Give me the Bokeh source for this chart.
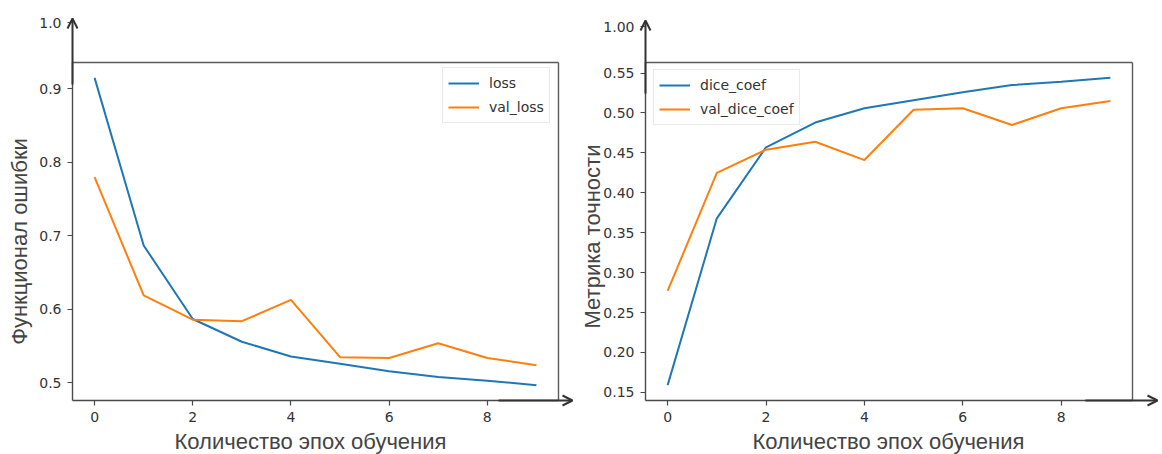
from bokeh.plotting import figure
from bokeh.layouts import row
from bokeh.models import (Range1d, FixedTicker, CustomJSTickFormatter, Label,
                          Arrow, OpenHead)
from bokeh.embed import file_html
from bokeh.resources import INLINE

# ---------------- data ----------------
epochs = [0, 1, 2, 3, 4, 5, 6, 7, 8, 9]
loss = [0.915, 0.687, 0.587, 0.556, 0.536, 0.526, 0.516, 0.508, 0.503, 0.497]
val_loss = [0.780, 0.619, 0.586, 0.584, 0.613, 0.535, 0.534, 0.554, 0.534, 0.524]
dice_coef = [0.159, 0.368, 0.457, 0.488, 0.506, 0.516, 0.526, 0.535, 0.539, 0.544]
val_dice_coef = [0.277, 0.425, 0.454, 0.464, 0.441, 0.504, 0.506, 0.485, 0.506, 0.515]

x_ticks = [0, 2, 4, 6, 8]
left_y_ticks = [0.5, 0.6, 0.7, 0.8, 0.9]
right_y_ticks = [0.15, 0.20, 0.25, 0.30, 0.35, 0.40, 0.45, 0.50, 0.55]

x_label = "Количество эпох обучения"
left_y_label = "Функционал ошибки"
right_y_label = "Метрика точности"
left_top_text = "1.0"
right_top_text = "1.00"

BLUE = "#1f77b4"
ORANGE = "#ff7f0e"
DARK = "#333333"
SPINE = "#4a4a4a"
TICK_FONT = "DejaVu Sans"
LABEL_FONT = "Liberation Sans"
H = 454


def margins(vals_list, frac=0.05):
    lo = min(min(v) for v in vals_list)
    hi = max(max(v) for v in vals_list)
    d = (hi - lo) * frac
    return lo - d, hi + d


def make_panel(page_left, width, FL, FR, FT, FB, series, names, yticks, ndec,
               ylabel, top_text, top_text_py, legend_box, ylabel_c, xlabel_c,
               yarrow, xarrow):
    # data limits of the axes box (matplotlib-like 5% margins)
    x0, x1 = margins([epochs])
    y0, y1 = margins([s for s in series])
    xs = (x1 - x0) / (FR - FL)     # data units per pixel
    ys = (y1 - y0) / (FB - FT)

    def X(px):
        return x0 + (px - FL) * xs

    def Y(py):
        return y1 - (py - FT) * ys

    # the frame covers the whole canvas; axes are pinned to the box edges
    p = figure(width=width, height=H, output_backend="svg",
               toolbar_location=None,
               x_range=Range1d(X(page_left), X(page_left + width)),
               y_range=Range1d(Y(H), Y(0)),
               min_border_left=0, min_border_right=0,
               min_border_top=0, min_border_bottom=0)
    p.title.visible = False
    p.xgrid.visible = False
    p.ygrid.visible = False
    p.outline_line_color = None
    p.background_fill_color = "white"
    p.border_fill_color = "white"

    for ax in (p.xaxis[0], p.yaxis[0]):
        ax.axis_line_color = SPINE
        ax.axis_line_width = 1.4
        ax.major_tick_line_color = SPINE
        ax.major_tick_line_width = 1.2
        ax.major_tick_out = 5
        ax.major_tick_in = 0
        ax.minor_tick_line_color = None
        ax.major_label_text_font = TICK_FONT
        ax.major_label_text_font_size = "14px"
        ax.major_label_text_color = DARK
        ax.major_label_standoff = 6
    xa, ya = p.xaxis[0], p.yaxis[0]
    xa.fixed_location = y0
    xa.bounds = (x0, x1)
    xa.ticker = FixedTicker(ticks=x_ticks)
    ya.fixed_location = x0
    ya.bounds = (y0, y1)
    top_val = Y(top_text_py)
    ya.ticker = FixedTicker(ticks=yticks + [top_val])
    ya.formatter = CustomJSTickFormatter(
        args=dict(top=top_val, lab=top_text, nd=ndec),
        code="return Math.abs(tick - top) < 1e-9 ? lab : tick.toFixed(nd);")

    # top and right sides of the axes box
    p.segment(x0=[x0, x1], y0=[y1, y0], x1=[x1, x1], y1=[y1, y1],
              line_color="#5a5a5a", line_width=1.4)

    colors = [BLUE, ORANGE]
    for s, n, c in zip(series, names, colors):
        p.line(epochs, s, line_color=c, line_width=2, legend_label=n)

    lg = p.legend[0]
    lg.location = (legend_box[0] - page_left, H - legend_box[1])
    lg.margin = 0
    lg.padding = 5
    lg.spacing = 4
    lg.label_height = 20
    lg.glyph_width = 31
    lg.glyph_height = 20
    lg.label_standoff = 10
    lg.label_text_font = TICK_FONT
    lg.label_text_font_size = "14px"
    lg.label_text_color = DARK
    lg.border_line_color = "#d4d4d4"
    lg.border_line_width = 1
    lg.background_fill_alpha = 0.85

    # hand-drawn style arrows on the axes
    head = dict(size=10, line_width=2, line_color=DARK)
    p.add_layout(Arrow(end=OpenHead(**head), x_start=x0, y_start=Y(yarrow[0]),
                       x_end=x0, y_end=Y(yarrow[1]),
                       line_color=DARK, line_width=2))
    p.add_layout(Arrow(end=OpenHead(**head), x_start=X(xarrow[0]), y_start=y0,
                       x_end=X(xarrow[1]), y_end=y0,
                       line_color=DARK, line_width=2))

    p.add_layout(Label(x=X(ylabel_c[0]), y=Y(ylabel_c[1]), text=ylabel,
                       angle=1.5707963, text_align="center",
                       text_baseline="middle", text_font=LABEL_FONT,
                       text_font_size="22px", text_color="#444444"))
    p.add_layout(Label(x=X(xlabel_c[0]), y=Y(xlabel_c[1]), text=x_label,
                       text_align="center", text_baseline="middle",
                       text_font=LABEL_FONT, text_font_size="22px",
                       text_color="#444444"))
    return p


p1 = make_panel(0, 580, 72, 558, 62, 400, [loss, val_loss], ["loss", "val_loss"],
                left_y_ticks, 1, left_y_label, left_top_text, 22,
                legend_box=(442, 123), ylabel_c=(19, 241), xlabel_c=(310, 441),
                yarrow=(84, 18), xarrow=(498, 572))
p2 = make_panel(580, 582, 645, 1132, 62, 400, [dice_coef, val_dice_coef],
                ["dice_coef", "val_dice_coef"],
                right_y_ticks, 2, right_y_label, right_top_text, 26,
                legend_box=(653, 125), ylabel_c=(592, 236), xlabel_c=(888, 441),
                yarrow=(93, 20), xarrow=(1085, 1157))

layout = row(p1, p2)
open("out.html", "w").write(file_html(layout, INLINE))
